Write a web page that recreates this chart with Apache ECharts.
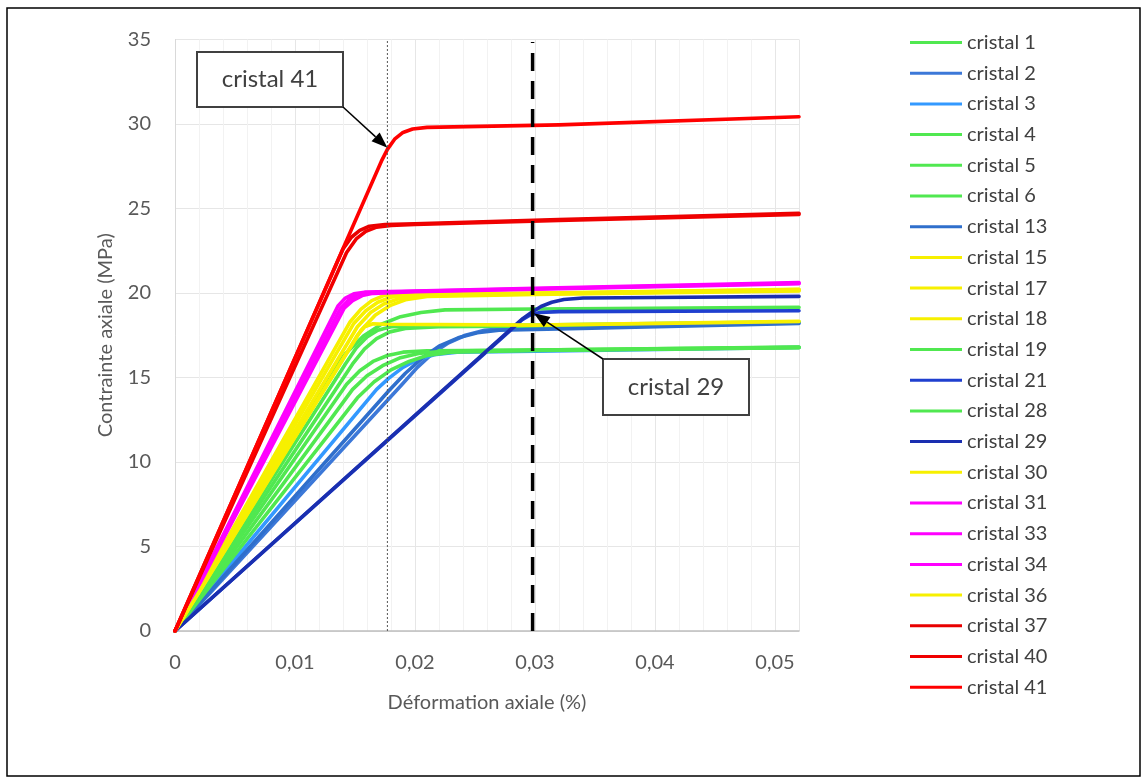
<!DOCTYPE html>
<html><head><meta charset="utf-8">
<script src="https://cdn.jsdelivr.net/npm/echarts@6/dist/echarts.min.js"></script>
<style>html,body{margin:0;padding:0;background:#fff}#chart{width:1147px;height:781px}</style>
</head><body><div id="chart"></div>
<script>
// ---- data (strain in %, stress in MPa) ----
const seriesNames = ['cristal 1','cristal 2','cristal 3','cristal 4','cristal 5','cristal 6','cristal 13','cristal 15','cristal 17','cristal 18','cristal 19','cristal 21','cristal 28','cristal 29','cristal 30','cristal 31','cristal 33','cristal 34','cristal 36','cristal 37','cristal 40','cristal 41'];
const seriesColors = ['#50e850','#3c78d8','#3399ff','#50e850','#50e850','#50e850','#2f6fcc','#f7f000','#f7f000','#f7f000','#50e850','#1f3fcf','#50e850','#1a2fb0','#f7f000','#ff00ff','#ff00ff','#ff00ff','#f7f000','#e80000','#f00000','#ff0000'];

const cristal1  = [[0,0],[0.0128,15.1],[0.0142,16.4],[0.0157,17.45],[0.0172,18.15],[0.0188,18.6],[0.0205,18.85],[0.0225,19.0],[0.03,19.05],[0.052,19.15]];
const cristal2  = [[0,0],[0.0188,14.5],[0.0202,15.6],[0.0215,16.45],[0.0228,17.05],[0.0242,17.5],[0.0258,17.8],[0.028,17.92],[0.032,17.97],[0.052,18.25]];
const cristal3  = [[0,0],[0.0168,14.3],[0.0178,14.95],[0.019,15.6],[0.0202,16.05],[0.0216,16.35],[0.0235,16.5],[0.03,16.55],[0.052,16.78]];
const cristal4  = [[0,0],[0.0142,15.8],[0.0151,16.75],[0.016,17.4],[0.0169,17.8],[0.018,18.0],[0.02,18.05],[0.03,18.1],[0.052,18.3]];
const cristal5  = [[0,0],[0.0148,15.8],[0.0158,16.7],[0.0168,17.3],[0.0179,17.7],[0.0192,17.9],[0.022,18.0],[0.03,18.05],[0.052,18.28]];
const cristal6  = [[0,0],[0.0143,14.6],[0.0154,15.4],[0.0165,15.95],[0.0177,16.3],[0.019,16.5],[0.021,16.58],[0.03,16.62],[0.052,16.8]];
const cristal13 = [[0,0],[0.0178,14.2],[0.0192,15.25],[0.0206,16.15],[0.022,16.85],[0.0236,17.35],[0.0252,17.65],[0.027,17.8],[0.032,17.88],[0.052,18.2]];
const cristal15 = [[0,0],[0.0146,18.3],[0.0155,19.05],[0.0164,19.55],[0.0174,19.85],[0.019,19.93],[0.03,20.0],[0.052,20.22]];
const cristal17 = [[0,0],[0.0149,18.2],[0.0159,18.95],[0.0169,19.45],[0.018,19.75],[0.0195,19.88],[0.03,19.97],[0.052,20.2]];
const cristal18 = [[0,0],[0.0152,18.0],[0.0163,18.85],[0.0174,19.35],[0.0186,19.65],[0.02,19.82],[0.03,19.95],[0.052,20.15]];
const cristal19 = [[0,0],[0.0148,14.3],[0.016,15.1],[0.0173,15.7],[0.0187,16.15],[0.0203,16.42],[0.0225,16.57],[0.03,16.62],[0.052,16.78]];
const cristal21 = [[0,0],[0.0282,17.95],[0.0289,18.4],[0.0296,18.7],[0.0304,18.85],[0.032,18.9],[0.052,18.95]];
const cristal28 = [[0,0],[0.0152,13.8],[0.0166,14.75],[0.018,15.45],[0.0195,15.95],[0.021,16.3],[0.023,16.5],[0.03,16.6],[0.052,16.76]];
const cristal29 = [[0,0],[0.0282,18.0],[0.029,18.5],[0.0297,18.85],[0.0305,19.2],[0.0314,19.45],[0.0324,19.62],[0.034,19.7],[0.04,19.73],[0.052,19.8]];
const cristal30 = [[0,0],[0.0155,17.8],[0.0167,18.7],[0.0179,19.25],[0.0192,19.6],[0.021,19.8],[0.03,19.92],[0.052,20.12]];
const cristal31 = [[0,0],[0.0136,19.25],[0.0142,19.7],[0.0149,19.95],[0.0158,20.05],[0.02,20.12],[0.03,20.28],[0.052,20.62]];
const cristal33 = [[0,0],[0.0138,19.1],[0.0145,19.6],[0.0152,19.9],[0.0161,20.0],[0.02,20.1],[0.03,20.25],[0.052,20.58]];
const cristal34 = [[0,0],[0.0141,19.1],[0.0148,19.55],[0.0156,19.85],[0.0165,19.98],[0.02,20.07],[0.03,20.22],[0.052,20.55]];
const cristal36 = [[0,0],[0.0146,16.8],[0.0152,17.5],[0.0158,18.0],[0.0165,18.18],[0.0175,18.15],[0.03,18.1],[0.052,18.32]];
const cristal37 = [[0,0],[0.014,22.6],[0.0147,23.3],[0.0154,23.7],[0.0162,23.95],[0.0175,24.05],[0.02,24.1],[0.032,24.35],[0.052,24.72]];
const cristal40 = [[0,0],[0.0143,22.4],[0.0151,23.2],[0.0159,23.65],[0.0168,23.9],[0.018,24.0],[0.02,24.05],[0.032,24.3],[0.052,24.65]];
const cristal41 = [[0,0],[0.0172,27.8],[0.0177,28.5],[0.0183,29.1],[0.019,29.5],[0.0198,29.7],[0.021,29.8],[0.032,29.95],[0.052,30.43]];

const curves = [cristal1,cristal2,cristal3,cristal4,cristal5,cristal6,cristal13,cristal15,cristal17,cristal18,cristal19,cristal21,cristal28,cristal29,cristal30,cristal31,cristal33,cristal34,cristal36,cristal37,cristal40,cristal41];

const xTicks = [0, 0.01, 0.02, 0.03, 0.04, 0.05];
const yTicks = [0, 5, 10, 15, 20, 25, 30, 35];
const dottedLine = [[0.0177, 0], [0.0177, 35]];
const dashedLine = [[0.0298, 0], [0.0298, 34.85]];
const callouts = [['cristal 41', 0.0177, 28.6], ['cristal 29', 0.0299, 18.8]];

// ---- chart ----
const FONT = 'Lato';
const chart = echarts.init(document.getElementById('chart'), null, {renderer: 'canvas'});

const series = curves.map((d, i) => ({
  type: 'line', name: seriesNames[i], data: d,
  showSymbol: false, symbol: 'none', smooth: false,
  lineStyle: {color: seriesColors[i], width: 3.6, join: 'round', cap: 'round'},
  itemStyle: {color: seriesColors[i]},
  emphasis: {disabled: true}, z: 2
}));
series.push({
  type: 'line', data: dottedLine, symbol: 'none', silent: true, z: 5,
  lineStyle: {type: [2, 2], color: '#555', width: 1}
});
series.push({
  type: 'line', data: dashedLine, symbol: 'none', silent: true, z: 5,
  lineStyle: {type: [18, 10], color: '#000', width: 3.5}
});

const option = {
  animation: false,
  backgroundColor: '#fff',
  textStyle: {fontFamily: FONT},
  grid: {left: 175, right: 348, top: 39.5, bottom: 150, containLabel: false},
  legend: {
    data: seriesNames, orient: 'vertical', left: 910, top: 32, padding: 0,
    icon: 'rect', itemWidth: 52, itemHeight: 3, itemGap: 9.7,
    textStyle: {fontFamily: FONT, fontSize: 20, color: '#404040', lineHeight: 21},
    selectedMode: false
  },
  xAxis: {
    type: 'value', min: xTicks[0], max: 0.052, interval: 0.01,
    axisLine: {show: true, lineStyle: {color: '#bfbfbf', width: 1.5}},
    axisTick: {show: false},
    axisLabel: {
      margin: 22, fontSize: 20, color: '#595959', fontFamily: FONT,
      formatter: v => { if (!xTicks.some(t => Math.abs(t - v) < 1e-9)) return ''; return v === 0 ? '0' : v.toFixed(2).replace('.', ','); }
    },
    splitLine: {show: true, lineStyle: {color: '#e6e6e6'}},
    minorTick: {show: false, splitNumber: 5},
    minorSplitLine: {show: true, lineStyle: {color: '#f2f2f2'}},
    name: 'Déformation axiale (%)', nameLocation: 'middle', nameGap: 62,
    nameTextStyle: {fontSize: 20, color: '#595959', fontFamily: FONT}
  },
  yAxis: {
    type: 'value', min: yTicks[0], max: yTicks[yTicks.length - 1], interval: 5,
    axisLine: {show: true, lineStyle: {color: '#d9d9d9'}},
    axisTick: {show: false},
    axisLabel: {margin: 24, fontSize: 20, color: '#595959', fontFamily: FONT},
    splitLine: {show: true, lineStyle: {color: '#e6e6e6'}},
    name: 'Contrainte axiale (MPa)', nameLocation: 'middle', nameGap: 59, nameRotate: 90,
    nameTextStyle: {fontSize: 20, color: '#595959', fontFamily: FONT}
  },
  series: series
};
chart.setOption(option);

// ---- callouts (boxes with arrows pointing at data coordinates) ----
const boxes = [
  {x: 197, y: 52, w: 146, h: 55, sx: 343, sy: 107},
  {x: 603, y: 359, w: 146, h: 56, sx: 603, sy: 359}
];
const graphics = [{
  type: 'rect', shape: {x: 7, y: 8, width: 1133, height: 768},
  style: {fill: 'none', stroke: '#000', lineWidth: 1.5}, silent: true, z: 100
}];
callouts.forEach((c, i) => {
  const b = boxes[i];
  const tip = chart.convertToPixel({gridIndex: 0}, [c[1], c[2]]);
  const dx = tip[0] - b.sx, dy = tip[1] - b.sy, len = Math.hypot(dx, dy);
  const ux = dx / len, uy = dy / len, L = 16, W = 6;
  const bx = tip[0] - ux * L, by = tip[1] - uy * L;
  graphics.push({type: 'rect', shape: {x: b.x, y: b.y, width: b.w, height: b.h},
    style: {fill: '#fff', stroke: '#404040', lineWidth: 2}, z: 100});
  graphics.push({type: 'text', x: b.x + b.w / 2, y: b.y + b.h / 2,
    style: {text: c[0], fill: '#404040', font: '24px ' + FONT, align: 'center', verticalAlign: 'middle'}, z: 101});
  graphics.push({type: 'line', shape: {x1: b.sx, y1: b.sy, x2: bx, y2: by},
    style: {stroke: '#000', lineWidth: 1.5}, z: 100});
  graphics.push({type: 'polygon', shape: {points: [[tip[0], tip[1]], [bx - uy * W, by + ux * W], [bx + uy * W, by - ux * W]]},
    style: {fill: '#000'}, z: 100});
});
chart.setOption({graphic: graphics});
</script>
</body></html>
